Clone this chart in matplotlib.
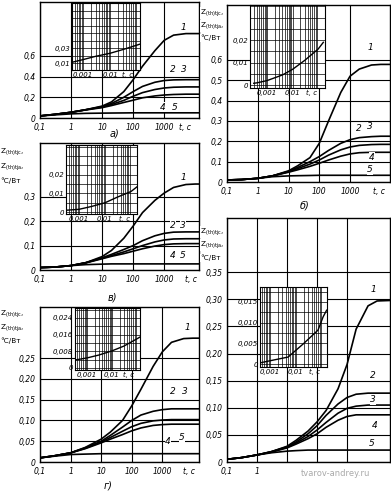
import matplotlib
matplotlib.use('Agg')
import matplotlib.pyplot as plt
from matplotlib.ticker import LogLocator, NullFormatter, AutoMinorLocator

# --- data ------------------------------------------------------------------
T_MAIN = [0.1, 0.3, 1, 3, 10, 20, 50, 100, 200, 500, 1000, 2000, 5000, 10000, 30000]

# panel a)
A1 = [0.02, 0.035, 0.055, 0.08, 0.115, 0.155, 0.255, 0.37, 0.5, 0.65, 0.75, 0.8, 0.815, 0.815, 0.815]
A2 = [0.02, 0.035, 0.055, 0.08, 0.11, 0.14, 0.2, 0.255, 0.305, 0.345, 0.362, 0.368, 0.37, 0.37, 0.37]
A3 = [0.02, 0.035, 0.055, 0.08, 0.105, 0.13, 0.17, 0.21, 0.245, 0.275, 0.29, 0.297, 0.3, 0.3, 0.3]
A4 = [0.02, 0.035, 0.055, 0.078, 0.1, 0.12, 0.15, 0.172, 0.195, 0.213, 0.222, 0.227, 0.23, 0.23, 0.23]
A5 = [0.02, 0.03, 0.04, 0.045, 0.047, 0.048, 0.049, 0.05, 0.05, 0.05, 0.05, 0.05, 0.05, 0.05, 0.05]

# panel b)
B1 = [0.01, 0.012, 0.018, 0.03, 0.055, 0.08, 0.12, 0.19, 0.3, 0.44, 0.52, 0.555, 0.575, 0.578, 0.578]
B2 = [0.01, 0.012, 0.018, 0.03, 0.052, 0.072, 0.1, 0.125, 0.155, 0.19, 0.208, 0.218, 0.223, 0.225, 0.225]
B3 = [0.01, 0.012, 0.018, 0.03, 0.05, 0.066, 0.088, 0.108, 0.132, 0.158, 0.172, 0.18, 0.184, 0.185, 0.185]
B4 = [0.01, 0.012, 0.018, 0.03, 0.048, 0.06, 0.077, 0.092, 0.108, 0.127, 0.138, 0.144, 0.146, 0.146, 0.146]
B5 = [0.01, 0.012, 0.018, 0.026, 0.03, 0.031, 0.032, 0.033, 0.033, 0.033, 0.033, 0.033, 0.033, 0.033, 0.033]

# panel v)
V1 = [0.01, 0.012, 0.018, 0.03, 0.055, 0.08, 0.13, 0.18, 0.235, 0.285, 0.315, 0.338, 0.35, 0.352, 0.352]
V2 = [0.01, 0.012, 0.018, 0.03, 0.05, 0.064, 0.084, 0.1, 0.12, 0.14, 0.15, 0.155, 0.156, 0.156, 0.156]
V3 = [0.01, 0.012, 0.018, 0.03, 0.048, 0.059, 0.074, 0.087, 0.1, 0.115, 0.123, 0.127, 0.128, 0.128, 0.128]
V4 = [0.01, 0.012, 0.018, 0.029, 0.046, 0.056, 0.067, 0.077, 0.087, 0.098, 0.104, 0.107, 0.108, 0.108, 0.108]
V5 = [0.01, 0.012, 0.018, 0.022, 0.024, 0.025, 0.025, 0.025, 0.025, 0.025, 0.025, 0.025, 0.025, 0.025, 0.025]

# panel g)
G1 = [0.01, 0.015, 0.022, 0.035, 0.055, 0.072, 0.1, 0.135, 0.175, 0.23, 0.265, 0.288, 0.297, 0.298, 0.298]
G2 = [0.01, 0.015, 0.022, 0.034, 0.05, 0.064, 0.084, 0.1, 0.113, 0.122, 0.126, 0.128, 0.128, 0.128, 0.128]
G3 = [0.01, 0.015, 0.022, 0.033, 0.048, 0.059, 0.074, 0.085, 0.093, 0.099, 0.101, 0.102, 0.102, 0.102, 0.102]
G4 = [0.01, 0.015, 0.022, 0.032, 0.046, 0.055, 0.066, 0.075, 0.082, 0.088, 0.09, 0.091, 0.091, 0.091, 0.091]
G5 = [0.01, 0.014, 0.018, 0.019, 0.02, 0.02, 0.02, 0.02, 0.02, 0.02, 0.02, 0.02, 0.02, 0.02, 0.02]

# panel d)
D1 = [0.005, 0.008, 0.013, 0.019, 0.029, 0.04, 0.057, 0.074, 0.095, 0.135, 0.18, 0.245, 0.288, 0.297, 0.298]
D2 = [0.005, 0.008, 0.013, 0.019, 0.028, 0.037, 0.052, 0.067, 0.086, 0.107, 0.119, 0.125, 0.127, 0.127, 0.127]
D3 = [0.005, 0.008, 0.013, 0.019, 0.027, 0.035, 0.047, 0.059, 0.073, 0.09, 0.099, 0.103, 0.105, 0.105, 0.105]
D4 = [0.005, 0.008, 0.013, 0.018, 0.026, 0.033, 0.043, 0.052, 0.064, 0.077, 0.084, 0.087, 0.087, 0.087, 0.087]
D5 = [0.005, 0.008, 0.013, 0.017, 0.02, 0.021, 0.022, 0.022, 0.022, 0.022, 0.022, 0.022, 0.022, 0.022, 0.022]

# insets (short times)
TA_IN = [0.0004, 0.001, 0.003, 0.01, 0.03, 0.1, 0.12]
ZA_IN = [0.011, 0.0145, 0.019, 0.023, 0.028, 0.034, 0.035]
TB_IN = [0.0003, 0.0004, 0.001, 0.004, 0.01, 0.03, 0.1, 0.16]
ZB_IN = [0.0008, 0.001, 0.002, 0.0045, 0.007, 0.011, 0.016, 0.019]
TV_IN = [0.00032, 0.001, 0.003, 0.01, 0.03, 0.1, 0.17]
ZV_IN = [0.001, 0.0015, 0.003, 0.005, 0.008, 0.011, 0.0135]
TG_IN = [0.00033, 0.001, 0.003, 0.01, 0.03, 0.1, 0.13]
ZG_IN = [0.0038, 0.0048, 0.0062, 0.0082, 0.0105, 0.014, 0.0148]
TD_IN = [0.00042, 0.001, 0.005, 0.02, 0.07, 0.11, 0.15]
ZD_IN = [0.0003, 0.0008, 0.0017, 0.005, 0.0082, 0.0114, 0.013]

X_TICKS = [0.1, 1, 10, 100, 1000]
X_LABELS = ['0,1', '1', '10', '100', '1000']
Z_LABEL = [r'$\mathrm{Z_{(th)tjc}}$,', r'$\mathrm{Z_{(th)tja}}$,', '°C/Вт']

W, H = 391, 492
fig = plt.figure(figsize=(W / 100, H / 100), dpi=100)
FS = 5.5
fnt = dict(fontsize=FS, style='italic')


def px_box(l, t, r, b):
    return [l / W, 1 - b / H, (r - l) / W, (b - t) / H]


def ftext(x, y, s, **kw):
    opts = dict(fontsize=6, style='italic', ha='center', va='center')
    opts.update(kw)
    fig.text(x / W, 1 - y / H, s, **opts)


def main_panel(box, ylim, xmax_exp, yticks, ylabels, curves, tc_pos, xlabels=X_LABELS):
    ax = fig.add_axes(px_box(*box))
    ax.set_xscale('log')
    ax.set_xlim(0.1, 10 ** xmax_exp)
    ax.set_ylim(*ylim)
    for z in curves:
        ax.plot(T_MAIN, z, color='black', lw=1.2)
    ax.set_xticks(X_TICKS)
    ax.set_xticklabels(xlabels, **fnt)
    ax.xaxis.set_minor_locator(LogLocator(base=10, subs=(2, 3, 5, 7)))
    ax.xaxis.set_minor_formatter(NullFormatter())
    ax.set_yticks(yticks)
    ax.set_yticklabels(ylabels, **fnt)
    ax.grid(True, which='major', color='black', lw=0.8)
    ax.grid(True, which='minor', axis='x', color='black', lw=0.55)
    ax.tick_params(which='both', length=0)
    ax.tick_params(axis='x', pad=3.5)
    ax.tick_params(axis='y', pad=3)
    for s in ax.spines.values():
        s.set_linewidth(1.0)
    if tc_pos is not None:
        ax.annotate('t, c', xy=(tc_pos, 0), xycoords='axes fraction', xytext=(0, -3.5),
                    textcoords='offset points', ha='center', va='top', **fnt)
    return ax


def inset(box, xexp, ylim, yticks, ylabels, t, z):
    ax = fig.add_axes(px_box(*box), zorder=5)
    ax.set_facecolor('white')
    ax.set_xscale('log')
    ax.set_xlim(10 ** xexp[0], 10 ** xexp[1])
    ax.set_ylim(*ylim)
    ax.plot(t, z, color='black', lw=1.0)
    ax.set_xticks([0.001, 0.01])
    ax.set_xticklabels(['0,001', '0,01'], fontsize=5, style='italic')
    ax.xaxis.set_minor_locator(LogLocator(base=10, subs=(2, 3, 4, 5, 6, 7, 8, 9)))
    ax.xaxis.set_minor_formatter(NullFormatter())
    ax.set_yticks(yticks)
    ax.set_yticklabels(ylabels, fontsize=5, style='italic')
    ax.yaxis.set_minor_locator(AutoMinorLocator(2))
    ax.grid(True, which='both', color='black', lw=0.5)
    ax.tick_params(which='both', length=0, pad=1.5)
    ax.annotate('t, c', xy=(0.82, 0), xycoords='axes fraction', xytext=(0, -1.5),
                textcoords='offset points', ha='center', va='top', fontsize=5, style='italic')
    return ax


# a)
main_panel((40, 2, 199, 118), (0, 1.12), 4.12, [0, 0.2, 0.4, 0.6],
           ['0', '0,2', '0,4', '0,6'], [A1, A2, A3, A4, A5], 0.91)
inset((72, 3, 140, 70), (-3.4, -0.9), (0.0007, 0.09), [0.01, 0.03], ['0,01', '0,03'],
      TA_IN, ZA_IN)

# b)
main_panel((227, 5, 390, 182), (0, 0.87), 4.3, [0, 0.1, 0.2, 0.3, 0.4, 0.5, 0.6],
           ['0', '0,1', '0,2', '0,3', '0,4', '0,5', '0,6'], [B1, B2, B3, B4, B5], 0.93)
inset((250, 5, 325, 88), (-3.67, -0.73), (-0.0013, 0.0356), [0, 0.01, 0.02],
      ['0', '0,01', '0,02'], TB_IN, ZB_IN)

# v)
main_panel((40, 143, 199, 270), (0, 0.52), 4.12, [0, 0.1, 0.2, 0.3],
           ['0', '0,1', '0,2', '0,3'], [V1, V2, V3, V4, V5], 0.95)
inset((66, 145, 137, 214), (-3.5, -0.77), (-0.001, 0.0358), [0, 0.01, 0.02],
      ['0', '0,01', '0,02'], TV_IN, ZV_IN)

# g)
main_panel((40, 307, 199, 462), (0, 0.373), 4.2, [0, 0.05, 0.1, 0.15, 0.2, 0.25],
           ['0', '0,05', '0,10', '0,15', '0,20', '0,25'], [G1, G2, G3, G4, G5], 0.94)
inset((75, 308, 140, 370), (-3.48, -0.88), (-0.001, 0.0288), [0, 0.008, 0.016, 0.024],
      ['0', '0,008', '0,016', '0,024'], TG_IN, ZG_IN)

# d)
main_panel((227, 218, 390, 462), (0, 0.45), 4.43,
           [0, 0.05, 0.1, 0.15, 0.2, 0.25, 0.3, 0.35],
           ['0', '0,05', '0,10', '0,15', '0,20', '0,25', '0,30', '0,35'],
           [D1, D2, D3, D4, D5], None, xlabels=['0,1', '1', '', '', ''])
inset((260, 287, 327, 367), (-3.38, -0.81), (-0.0007, 0.0186), [0, 0.005, 0.01, 0.015],
      ['0', '0,005', '0,010', '0,015'], TD_IN, ZD_IN)

# y labels
for (x, ys) in [(200, (13, 26, 38)), (0, (152, 167, 181)), (0, (314, 328, 341)),
                (200, (232, 245, 258))]:
    for y, s in zip(ys, Z_LABEL):
        ftext(x, y, s, ha='left', fontsize=5.2, style='normal', zorder=6,
              bbox=dict(facecolor='white', edgecolor='none', pad=0.2))

# curve numbers
CURVE_TAGS = [
    [(183, 27), (173, 70), (184, 70), (163, 107), (175, 107)],
    [(370, 48), (359, 128), (370, 127), (372, 157), (370, 170)],
    [(183, 177), (173, 225), (183, 225), (173, 255), (183, 255)],
    [(187, 328), (173, 392), (185, 392), (168, 442), (182, 438)],
    [(373, 290), (373, 375), (373, 400), (375, 425), (372, 443)],
]
for tags in CURVE_TAGS:
    for i, (x, y) in enumerate(tags):
        ftext(x, y, str(i + 1), fontsize=6.5, zorder=7,
              bbox=dict(facecolor='white', edgecolor='none', pad=0.2))

# panel letters
for x, y, s in [(114, 134, 'а)'), (305, 206, 'б)'), (112, 298, 'в)'), (108, 486, 'г)')]:
    ftext(x, y, s, fontsize=7)

ftext(335, 474, 'tvarov-andrey.ru', fontsize=6, style='normal', color='#aaaaaa',
      bbox=dict(facecolor='white', edgecolor='none', pad=0.5), zorder=8)

fig.savefig('out.png', dpi=100)
